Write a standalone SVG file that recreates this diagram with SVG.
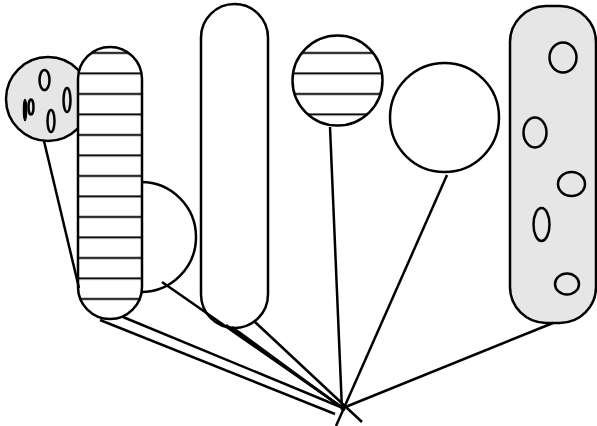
<svg xmlns="http://www.w3.org/2000/svg" width="597" height="426" viewBox="0 0 597 426">
<style>
.s{stroke:#000;stroke-width:2.5;}
.w{fill:#fff;}
.g{fill:#e6e6e6;}
.h{fill:none;stroke:#000;stroke-width:2.5;}
.c line{stroke:#000;stroke-width:2.5;stroke-linecap:butt;}
</style>
<defs>
<pattern id="stripes" patternUnits="userSpaceOnUse" x="0" y="0" width="600" height="20.5">
<rect x="0" y="0" width="600" height="20.5" fill="#fff"/>
<line x1="0" y1="12" x2="600" y2="12" stroke="#000" stroke-width="2"/>
</pattern>
</defs>
<rect width="597" height="426" fill="#fff"/>
<g id="node-gray-circle">
<circle cx="48" cy="99" r="42" class="g s"/>
<ellipse cx="44.5" cy="80" rx="5" ry="10" class="h"/>
<ellipse cx="67" cy="100" rx="3.5" ry="12" class="h"/>
<ellipse cx="51" cy="121" rx="3.5" ry="11" class="h"/>
<ellipse cx="31" cy="107" rx="2.5" ry="7.5" class="h"/>
<ellipse cx="25" cy="110" rx="1.5" ry="10.5" fill="#000" stroke="#000" stroke-width="1.5"/>
</g>
<g id="node-half-circle">
<circle cx="141" cy="237" r="55" class="w s"/>
</g>
<g id="node-striped-capsule">
<rect x="78" y="47" width="64" height="272" rx="32" ry="32" fill="url(#stripes)" class="s"/>
</g>
<g id="node-tall-capsule">
<rect x="201" y="4" width="67" height="324" rx="33.5" ry="33.5" class="w s"/>
</g>
<g id="node-striped-circle">
<circle cx="337.5" cy="80.5" r="45" fill="url(#stripes)" class="s"/>
</g>
<g id="node-white-circle">
<circle cx="444.5" cy="117.5" r="54.5" class="w s"/>
</g>
<g id="node-gray-capsule">
<rect x="510" y="6" width="86" height="317" rx="36" ry="36" class="g s"/>
<ellipse cx="563" cy="57.5" rx="13.5" ry="15" class="h"/>
<ellipse cx="535" cy="132.5" rx="11.5" ry="15" class="h"/>
<ellipse cx="571.5" cy="184" rx="13.5" ry="12" class="h"/>
<ellipse cx="541.5" cy="224.5" rx="8" ry="16.5" class="h"/>
<ellipse cx="567" cy="284" rx="12" ry="10.5" class="h"/>
</g>
<g id="connectors" class="c">
<line x1="44" y1="141" x2="79" y2="288"/>
<line x1="100" y1="320" x2="335" y2="414"/>
<line x1="123" y1="317" x2="343" y2="408"/>
<line x1="162" y1="282" x2="343" y2="408"/>
<line x1="226" y1="325" x2="343" y2="408"/>
<line x1="232" y1="327" x2="345" y2="410"/>
<line x1="255" y1="322" x2="362" y2="422"/>
<line x1="330" y1="127" x2="342" y2="410"/>
<line x1="447" y1="175" x2="336" y2="426"/>
<line x1="553" y1="323" x2="343" y2="408"/>
</g>
</svg>
